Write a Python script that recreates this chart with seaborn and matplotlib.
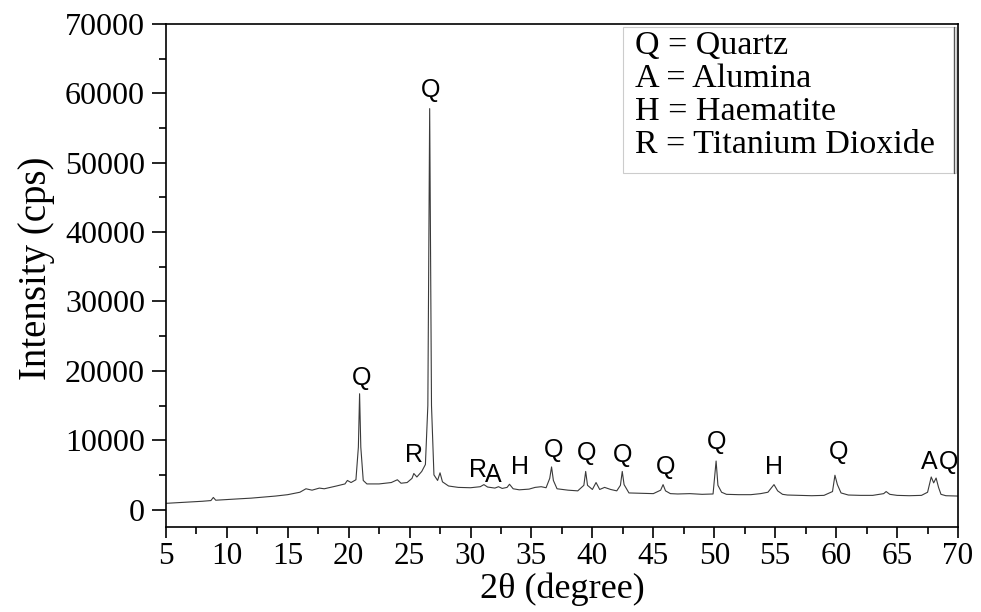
import matplotlib
matplotlib.use("Agg")
import matplotlib.pyplot as plt
import seaborn as sns
import pandas as pd
from matplotlib.ticker import MultipleLocator
from matplotlib.patches import Rectangle

two_theta = [5.0, 6.0, 7.0, 8.0, 8.7, 8.9, 9.1, 10.0, 11.0, 12.0, 13.0, 14.0, 15.0, 16.0, 16.5, 17.0,
             17.6, 18.0, 19.0, 19.7, 19.9, 20.2, 20.6, 20.8, 20.9, 21.0, 21.2, 21.5, 22.5, 23.5, 24.0,
             24.3, 24.8, 25.2, 25.35, 25.6, 26.0, 26.3, 26.5, 26.65, 26.8, 27.0, 27.3, 27.5, 27.7, 28.2,
             29.0, 30.0, 30.8, 31.1, 31.4, 32.0, 32.3, 32.6, 33.0, 33.2, 33.5, 34.0, 34.8, 35.3, 35.8,
             36.2, 36.5, 36.65, 36.8, 37.1, 38.0, 38.8, 39.3, 39.45, 39.6, 40.0, 40.3, 40.6, 41.0, 41.5,
             42.0, 42.3, 42.45, 42.6, 43.0, 44.0, 45.0, 45.6, 45.8, 46.0, 46.4, 47.0, 48.0, 49.0, 49.9,
             50.05, 50.15, 50.3, 50.6, 51.0, 52.0, 53.0, 53.8, 54.4, 54.9, 55.2, 55.6, 56.0, 57.0, 58.0,
             59.0, 59.7, 59.9, 60.1, 60.4, 61.0, 62.0, 63.0, 63.9, 64.1, 64.4, 65.0, 66.0, 67.0, 67.5,
             67.8, 68.0, 68.2, 68.4, 68.6, 69.0, 70.0]
intensity = [900, 1000, 1100, 1200, 1300, 1750, 1350, 1450, 1550, 1650, 1800, 1950, 2150, 2500, 3000, 2800,
             3100, 3000, 3400, 3700, 4200, 3900, 4300, 9000, 16700, 9000, 4200, 3700, 3700, 3900, 4300,
             3800, 3900, 4500, 5200, 4700, 5500, 6500, 15000, 57800, 15000, 5000, 4200, 5300, 4000, 3400,
             3200, 3150, 3300, 3600, 3250, 3100, 3300, 3050, 3200, 3650, 3000, 2850, 2950, 3200, 3300,
             3150, 4500, 6150, 4200, 3000, 2800, 2700, 3500, 5500, 3500, 2900, 3900, 2900, 3200, 2900,
             2700, 3500, 5500, 3600, 2400, 2350, 2300, 2800, 3600, 2700, 2300, 2250, 2300, 2200, 2250,
             5000, 7000, 3500, 2500, 2200, 2150, 2150, 2300, 2500, 3600, 2700, 2200, 2100, 2050, 2000,
             2050, 2600, 4950, 3600, 2400, 2100, 2050, 2050, 2300, 2600, 2200, 2050, 2000, 2050, 2500,
             4700, 3850, 4550, 3200, 2200, 2000, 1950]

peak_labels = ["Q", "Q", "R", "R", "A", "H", "Q", "Q", "Q", "Q", "Q", "H", "Q", "A", "Q"]
label_x = [21.1, 26.7, 25.4, 30.6, 31.9, 34.1, 36.8, 39.5, 42.5, 46.0, 50.2, 54.9, 60.2, 67.6, 69.2]
label_y = [19000, 60500, 7800, 5760, 5040, 6200, 8650, 8200, 7900, 6200, 9800, 6200, 8350, 6900, 6900]

legend_lines = ["Q = Quartz", "A = Alumina", "H = Haematite", "R = Titanium Dioxide"]

x_ticks = list(range(5, 71, 5))
y_ticks = list(range(0, 70001, 10000))

sns.set_theme(style="ticks")
plt.rcParams["font.family"] = ["Liberation Serif", "DejaVu Serif"]
plt.rcParams["text.color"] = "black"
plt.rcParams["axes.labelcolor"] = "black"

fig = plt.figure(figsize=(9.81, 6.12), dpi=100)
ax = fig.add_axes([0.169, 0.139, 0.8076, 0.8218])

df = pd.DataFrame({"two_theta": two_theta, "intensity": intensity})
sns.lineplot(data=df, x="two_theta", y="intensity", ax=ax, color="#3a3a3a",
             linewidth=0.8, sort=False, estimator=None)

for lab, lx, ly in zip(peak_labels, label_x, label_y):
    ax.text(lx, ly, lab, ha="center", va="center", fontsize=18,
            family=["Liberation Sans", "DejaVu Sans"], color="black")

ax.set_xlim(5, 70)
ax.set_ylim(-2500, 70000)
ax.set_xticks(x_ticks)
ax.set_yticks(y_ticks)
ax.xaxis.set_minor_locator(MultipleLocator(2.5))
ax.yaxis.set_minor_locator(MultipleLocator(5000))
ax.tick_params(axis="y", which="major", direction="out", length=10, width=1.2,
               labelsize=23, colors="black", pad=5)
ax.tick_params(axis="x", which="major", direction="out", length=8, width=1.2,
               labelsize=22.5, colors="black", pad=2.5)
ax.tick_params(axis="both", which="minor", direction="out", length=5, width=1.2, colors="black")
for s in ax.spines.values():
    s.set_linewidth(1.2)
    s.set_color("black")

ax.set_xlabel("2θ (degree)", fontsize=26, va="top", color="black")
ax.xaxis.set_label_coords(0.5, -0.091)
ax.set_ylabel("Intensity (cps)", fontsize=28, color="black")
ax.yaxis.set_label_coords(-0.14, 0.515)

# legend-like text box
ax.add_patch(Rectangle((0.577, 0.704), 0.42, 0.29, transform=ax.transAxes,
                       fill=False, edgecolor="#cccccc", linewidth=0.8))
ax.plot([0.9945, 0.9945], [0.704, 0.994], transform=ax.transAxes, color="#555555", linewidth=1.0)
for i, line in enumerate(legend_lines):
    ax.text(0.592, 0.957 - i * 0.066, line, transform=ax.transAxes, fontsize=24.5,
            ha="left", va="center", color="black")

fig.savefig("out.png", dpi=100)
